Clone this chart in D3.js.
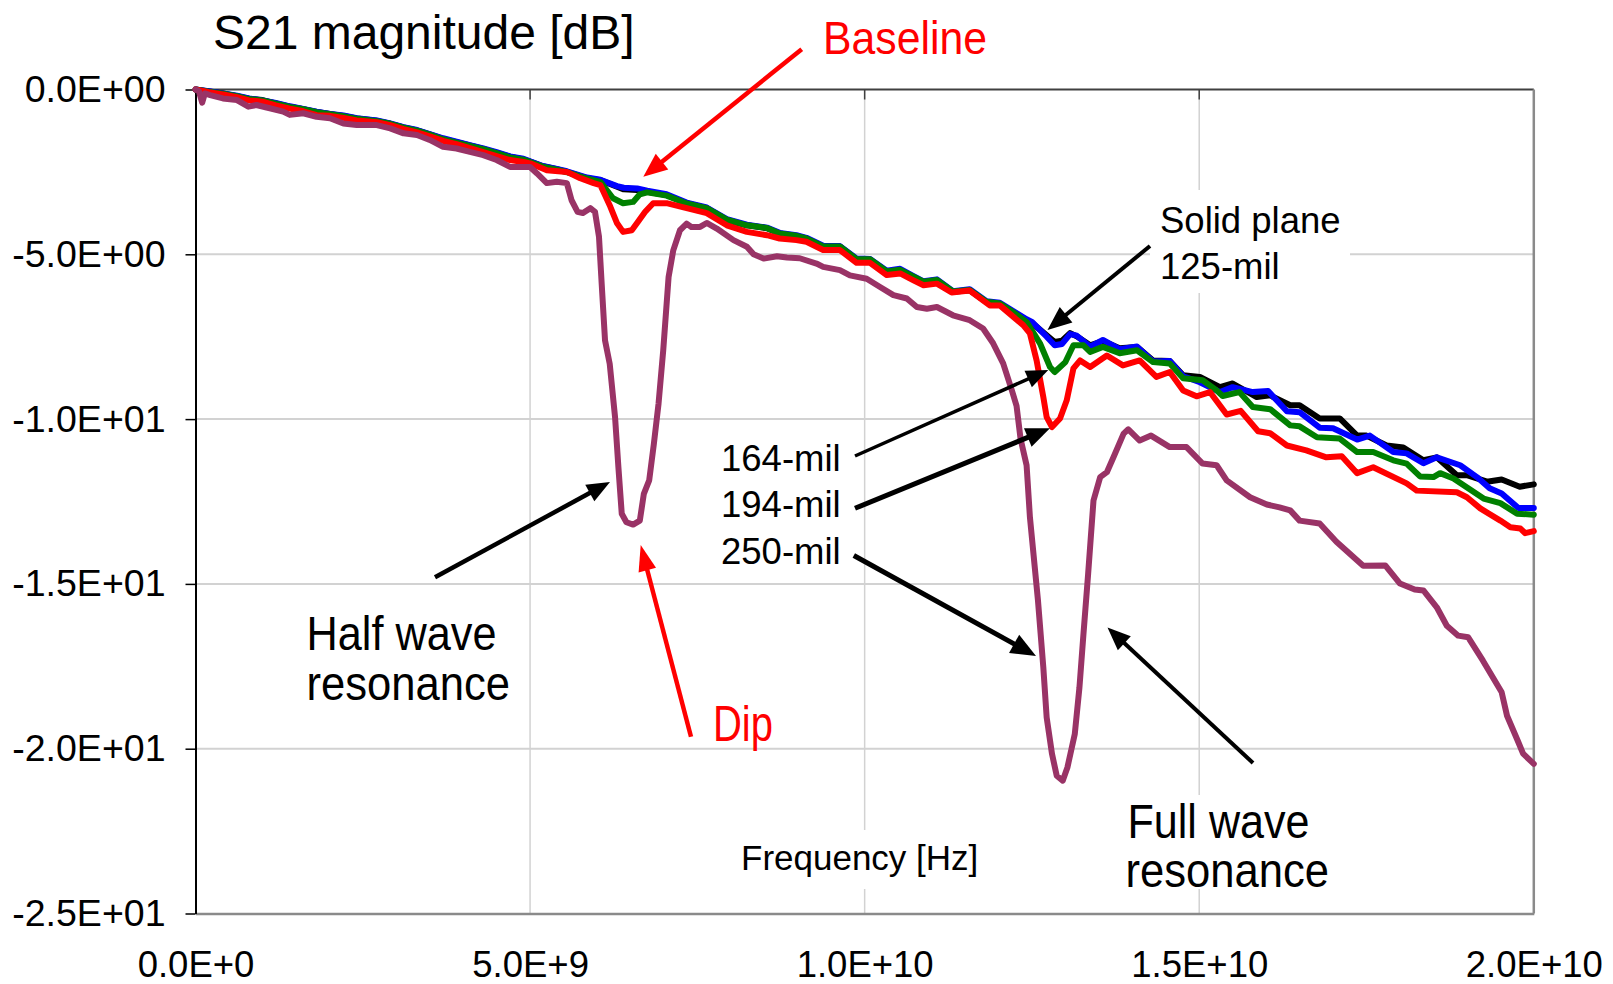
<!DOCTYPE html>
<html>
<head>
<meta charset="utf-8">
<script src="https://cdn.jsdelivr.net/npm/d3@7"></script>
<style>
  html, body { margin: 0; padding: 0; background: #fff; }
  svg { display: block; }
  text { font-family: "Liberation Sans", Arial, sans-serif; fill: #000; }
  .narrow { font-family: "Liberation Sans Narrow", "Arial Narrow", "Liberation Sans", Arial, sans-serif; }
</style>
</head>
<body>
<svg id="chart" width="1613" height="984"></svg>
<script>
// ---- S21 measurements: [frequency in GHz, magnitude in dB] ----
const solidPlane = [[0,0],[0.2,-0.06],[0.41,-0.12],[0.62,-0.2],[0.8,-0.28],[1.0,-0.32],[1.2,-0.42],[1.41,-0.52],[1.61,-0.6],[1.81,-0.68],[2.01,-0.74],[2.21,-0.8],[2.41,-0.88],[2.71,-0.95],[2.91,-1.04],[3.11,-1.15],[3.31,-1.24],[3.5,-1.36],[3.7,-1.5],[3.9,-1.6],[4.1,-1.7],[4.3,-1.8],[4.5,-1.92],[4.7,-2.04],[4.9,-2.12],[5.0,-2.19],[5.19,-2.33],[5.4,-2.42],[5.55,-2.5],[5.85,-2.69],[6.05,-2.75],[6.3,-2.95],[6.4,-3.03],[6.6,-3.05],[6.75,-3.1],[7.04,-3.2],[7.34,-3.45],[7.64,-3.6],[7.94,-3.96],[8.24,-4.12],[8.54,-4.21],[8.73,-4.37],[8.98,-4.45],[9.13,-4.52],[9.38,-4.77],[9.63,-4.77],[9.88,-5.16],[10.08,-5.16],[10.33,-5.53],[10.53,-5.48],[10.73,-5.69],[10.88,-5.84],[11.08,-5.79],[11.32,-6.14],[11.57,-6.09],[11.82,-6.45],[12.02,-6.5],[12.22,-6.75],[12.42,-7.0],[12.5,-7.08],[12.72,-7.46],[12.84,-7.66],[12.95,-7.62],[13.07,-7.39],[13.17,-7.49],[13.37,-7.76],[13.56,-7.63],[13.81,-7.85],[14.07,-7.81],[14.31,-8.22],[14.56,-8.24],[14.76,-8.67],[15.01,-8.72],[15.31,-9.03],[15.5,-8.92],[15.86,-9.33],[16.06,-9.28],[16.36,-9.58],[16.5,-9.58],[16.8,-9.98],[17.1,-9.98],[17.36,-10.5],[17.5,-10.5],[17.8,-10.8],[18.05,-10.86],[18.35,-11.25],[18.55,-11.16],[18.85,-11.7],[19.0,-11.7],[19.3,-11.9],[19.52,-11.83],[19.79,-12.05],[20.0,-11.98]];

const mil125 = [[0,0],[0.2,-0.05],[0.41,-0.12],[0.62,-0.19],[0.8,-0.27],[1.0,-0.33],[1.2,-0.41],[1.41,-0.51],[1.61,-0.59],[1.81,-0.67],[2.01,-0.74],[2.21,-0.79],[2.41,-0.87],[2.71,-0.94],[2.91,-1.03],[3.11,-1.14],[3.31,-1.23],[3.5,-1.35],[3.7,-1.48],[3.9,-1.58],[4.1,-1.69],[4.3,-1.79],[4.5,-1.9],[4.7,-2.03],[4.9,-2.1],[5.0,-2.18],[5.19,-2.32],[5.4,-2.41],[5.55,-2.48],[5.85,-2.67],[6.05,-2.74],[6.3,-2.93],[6.4,-2.98],[6.6,-3.0],[6.75,-3.07],[7.04,-3.18],[7.34,-3.43],[7.64,-3.58],[7.94,-3.93],[8.24,-4.1],[8.54,-4.19],[8.73,-4.35],[8.98,-4.42],[9.13,-4.5],[9.38,-4.74],[9.63,-4.75],[9.88,-5.13],[10.08,-5.14],[10.33,-5.5],[10.53,-5.44],[10.73,-5.66],[10.88,-5.82],[11.08,-5.76],[11.32,-6.12],[11.57,-6.06],[11.82,-6.42],[12.02,-6.47],[12.22,-6.72],[12.42,-6.97],[12.5,-7.05],[12.72,-7.5],[12.84,-7.76],[12.95,-7.72],[13.07,-7.42],[13.17,-7.47],[13.37,-7.8],[13.56,-7.6],[13.81,-7.88],[14.07,-7.8],[14.31,-8.25],[14.56,-8.24],[14.76,-8.7],[15.01,-8.88],[15.31,-9.18],[15.5,-9.03],[15.8,-9.18],[16.03,-9.15],[16.31,-9.76],[16.5,-9.79],[16.8,-10.26],[17.0,-10.28],[17.36,-10.62],[17.55,-10.5],[17.9,-11.0],[18.1,-11.04],[18.35,-11.34],[18.55,-11.16],[18.9,-11.4],[19.15,-11.76],[19.34,-12.1],[19.52,-12.26],[19.77,-12.7],[20.0,-12.7]];

const mil164 = [[0,0],[0.2,-0.07],[0.41,-0.13],[0.62,-0.2],[0.8,-0.29],[1.0,-0.33],[1.2,-0.43],[1.41,-0.53],[1.61,-0.6],[1.81,-0.69],[2.01,-0.75],[2.21,-0.81],[2.41,-0.89],[2.71,-0.96],[2.91,-1.04],[3.11,-1.16],[3.31,-1.25],[3.5,-1.37],[3.7,-1.51],[3.9,-1.61],[4.1,-1.71],[4.3,-1.81],[4.5,-1.93],[4.7,-2.06],[4.9,-2.13],[5.0,-2.2],[5.19,-2.34],[5.4,-2.43],[5.55,-2.51],[5.85,-2.7],[6.05,-2.8],[6.24,-3.3],[6.39,-3.45],[6.54,-3.41],[6.64,-3.18],[6.75,-3.12],[7.04,-3.22],[7.34,-3.46],[7.64,-3.6],[7.94,-3.95],[8.24,-4.12],[8.54,-4.2],[8.73,-4.37],[8.98,-4.44],[9.13,-4.52],[9.38,-4.76],[9.63,-4.76],[9.88,-5.15],[10.08,-5.15],[10.33,-5.52],[10.53,-5.47],[10.73,-5.68],[10.88,-5.83],[11.08,-5.78],[11.32,-6.13],[11.57,-6.08],[11.82,-6.44],[12.02,-6.49],[12.22,-6.76],[12.42,-7.05],[12.62,-7.7],[12.77,-8.42],[12.84,-8.57],[13.0,-8.27],[13.12,-7.76],[13.27,-7.76],[13.37,-7.96],[13.56,-7.81],[13.81,-8.0],[14.07,-7.91],[14.31,-8.27],[14.56,-8.31],[14.76,-8.76],[15.05,-8.82],[15.26,-9.13],[15.35,-9.3],[15.6,-9.18],[15.8,-9.63],[16.06,-9.7],[16.36,-10.19],[16.5,-10.22],[16.76,-10.55],[17.1,-10.59],[17.36,-11.0],[17.6,-11.0],[17.9,-11.25],[18.1,-11.35],[18.3,-11.74],[18.5,-11.76],[18.6,-11.64],[18.8,-11.8],[19.25,-12.41],[19.5,-12.55],[19.75,-12.87],[20.0,-12.9]];

const mil194 = [[0,0],[0.2,-0.08],[0.41,-0.15],[0.62,-0.23],[0.8,-0.33],[1.0,-0.37],[1.2,-0.48],[1.41,-0.58],[1.61,-0.66],[1.81,-0.78],[2.01,-0.8],[2.21,-0.86],[2.41,-0.94],[2.71,-0.99],[2.91,-1.08],[3.11,-1.2],[3.31,-1.3],[3.5,-1.42],[3.7,-1.56],[3.9,-1.66],[4.1,-1.78],[4.3,-1.9],[4.5,-2.02],[4.7,-2.14],[4.9,-2.2],[5.0,-2.24],[5.25,-2.45],[5.55,-2.5],[5.75,-2.69],[5.95,-2.84],[6.05,-2.9],[6.2,-3.56],[6.3,-4.06],[6.39,-4.32],[6.52,-4.27],[6.61,-4.02],[6.72,-3.71],[6.84,-3.45],[7.04,-3.45],[7.34,-3.6],[7.64,-3.75],[7.94,-4.12],[8.24,-4.32],[8.54,-4.42],[8.73,-4.52],[8.98,-4.57],[9.13,-4.62],[9.38,-4.87],[9.63,-4.87],[9.88,-5.26],[10.08,-5.26],[10.33,-5.63],[10.53,-5.58],[10.73,-5.79],[10.88,-5.94],[11.08,-5.89],[11.3,-6.16],[11.57,-6.1],[11.87,-6.55],[12.02,-6.55],[12.37,-7.15],[12.47,-7.4],[12.57,-8.22],[12.67,-9.33],[12.72,-9.94],[12.8,-10.24],[12.92,-9.98],[13.02,-9.43],[13.12,-8.46],[13.22,-8.22],[13.37,-8.42],[13.62,-8.07],[13.86,-8.37],[14.11,-8.22],[14.36,-8.72],[14.56,-8.57],[14.76,-9.13],[14.96,-9.31],[15.16,-9.18],[15.41,-9.86],[15.62,-9.75],[15.88,-10.37],[16.06,-10.43],[16.31,-10.8],[16.6,-10.95],[16.9,-11.16],[17.13,-11.13],[17.36,-11.64],[17.6,-11.46],[18.1,-11.95],[18.25,-12.17],[18.85,-12.22],[19.0,-12.37],[19.2,-12.71],[19.5,-13.08],[19.65,-13.28],[19.8,-13.32],[19.87,-13.46],[20.0,-13.4]];

const mil250 = [[0,0],[0.05,-0.05],[0.1,-0.4],[0.14,-0.12],[0.22,-0.17],[0.41,-0.27],[0.62,-0.32],[0.79,-0.52],[0.91,-0.47],[1.11,-0.57],[1.31,-0.67],[1.41,-0.77],[1.61,-0.72],[1.81,-0.83],[2.01,-0.87],[2.21,-1.03],[2.41,-1.08],[2.71,-1.08],[2.91,-1.18],[3.11,-1.33],[3.31,-1.38],[3.5,-1.53],[3.7,-1.74],[3.9,-1.79],[4.1,-1.89],[4.3,-1.99],[4.5,-2.14],[4.7,-2.35],[4.9,-2.35],[5.0,-2.35],[5.1,-2.54],[5.25,-2.84],[5.4,-2.8],[5.55,-2.84],[5.62,-3.36],[5.71,-3.71],[5.79,-3.75],[5.9,-3.6],[5.97,-3.71],[6.03,-4.47],[6.07,-5.89],[6.12,-7.61],[6.19,-8.32],[6.27,-9.94],[6.32,-11.46],[6.37,-12.87],[6.44,-13.13],[6.54,-13.2],[6.64,-13.08],[6.7,-12.27],[6.78,-11.86],[6.85,-10.75],[6.92,-9.53],[6.99,-7.91],[7.07,-5.69],[7.14,-4.88],[7.24,-4.27],[7.34,-4.07],[7.41,-4.17],[7.54,-4.17],[7.64,-4.05],[7.79,-4.22],[8.04,-4.57],[8.24,-4.77],[8.34,-5.0],[8.49,-5.13],[8.69,-5.06],[8.84,-5.1],[9.03,-5.12],[9.28,-5.28],[9.38,-5.38],[9.63,-5.48],[9.78,-5.64],[10.03,-5.74],[10.23,-5.99],[10.43,-6.24],[10.63,-6.34],[10.78,-6.6],[10.93,-6.65],[11.08,-6.6],[11.32,-6.85],[11.57,-7.0],[11.77,-7.25],[11.92,-7.7],[12.07,-8.31],[12.2,-9.13],[12.27,-9.6],[12.33,-10.6],[12.42,-11.4],[12.47,-12.98],[12.59,-15.5],[12.67,-17.53],[12.72,-19.05],[12.8,-20.16],[12.87,-20.82],[12.96,-20.97],[13.03,-20.57],[13.14,-19.56],[13.21,-18.14],[13.27,-16.52],[13.34,-14.69],[13.42,-12.47],[13.52,-11.76],[13.62,-11.61],[13.72,-11.15],[13.87,-10.44],[13.94,-10.31],[14.11,-10.65],[14.28,-10.5],[14.56,-10.85],[14.81,-10.85],[15.05,-11.35],[15.26,-11.4],[15.41,-11.86],[15.76,-12.37],[16.01,-12.59],[16.2,-12.68],[16.36,-12.77],[16.5,-13.08],[16.8,-13.17],[17.05,-13.72],[17.45,-14.45],[17.78,-14.44],[18.0,-14.99],[18.22,-15.17],[18.35,-15.2],[18.55,-15.71],[18.7,-16.27],[18.87,-16.57],[19.02,-16.62],[19.24,-17.33],[19.52,-18.29],[19.6,-19.0],[19.76,-19.76],[19.84,-20.15],[20.0,-20.46]];

// ---- axis ticks ----
const xTickValues = [0, 5, 10, 15, 20];           // GHz
const xTickLabels = ["0.0E+0", "5.0E+9", "1.0E+10", "1.5E+10", "2.0E+10"];
const yTickValues = [0, -5, -10, -15, -20, -25];  // dB
const yTickLabels = ["0.0E+00", "-5.0E+00", "-1.0E+01", "-1.5E+01", "-2.0E+01", "-2.5E+01"];

// ---- series drawing order (last on top) ----
const seriesList = [
  { name: "Solid plane", values: solidPlane, color: "#000000" },
  { name: "125-mil",     values: mil125,     color: "#0000ff" },
  { name: "164-mil",     values: mil164,     color: "#008000" },
  { name: "194-mil",     values: mil194,     color: "#ff0000" },
  { name: "250-mil",     values: mil250,     color: "#993366" }
];

// ---- layout ----
const plot = { left: 195.5, right: 1533.8, top: 89.5, bottom: 913.5 };
const svg = d3.select("#chart");

const x = d3.scaleLinear().domain([0, 20]).range([plot.left, plot.right]);
const y = d3.scaleLinear().domain([-25, 0]).range([plot.bottom, plot.top]);

// gridlines
const grid = svg.append("g");
grid.selectAll("line.h").data(yTickValues.filter(v => v !== 0 && v !== -25)).join("line")
  .attr("x1", plot.left).attr("x2", plot.right)
  .attr("y1", d => y(d)).attr("y2", d => y(d))
  .attr("stroke", "#d2d2d2").attr("stroke-width", 2);
grid.selectAll("line.v").data(xTickValues.filter(v => v !== 0 && v !== 20)).join("line")
  .attr("x1", d => x(d)).attr("x2", d => x(d))
  .attr("y1", plot.top).attr("y2", plot.bottom)
  .attr("stroke", "#d2d2d2").attr("stroke-width", 1.5);

// frame: top and right borders
svg.append("line").attr("x1", plot.left).attr("x2", plot.right)
  .attr("y1", plot.top).attr("y2", plot.top).attr("stroke", "#404040").attr("stroke-width", 2);
svg.append("line").attr("x1", plot.right).attr("x2", plot.right)
  .attr("y1", plot.top).attr("y2", plot.bottom).attr("stroke", "#8a8a8a").attr("stroke-width", 2.5);
// short marks hanging from the top border
svg.append("g").selectAll("line").data(xTickValues.filter(v => v !== 0 && v !== 20)).join("line")
  .attr("x1", d => x(d)).attr("x2", d => x(d))
  .attr("y1", plot.top).attr("y2", plot.top + 10)
  .attr("stroke", "#404040").attr("stroke-width", 1.5);

// x axis
const xAxis = d3.axisBottom(x)
  .tickValues(xTickValues)
  .tickFormat((d, i) => xTickLabels[i])
  .tickSizeInner(0).tickSizeOuter(0).tickPadding(38);
const gx = svg.append("g").attr("transform", `translate(0,${plot.bottom})`).call(xAxis);
gx.select(".domain").attr("stroke", "#8a8a8a").attr("stroke-width", 2.5);
gx.selectAll("text").attr("font-size", 36.5).attr("font-family", "Liberation Sans, Arial, sans-serif").attr("fill", "#000");

// y axis
const yAxis = d3.axisLeft(y)
  .tickValues(yTickValues)
  .tickFormat((d, i) => yTickLabels[i])
  .tickSizeInner(10).tickSizeOuter(0).tickPadding(20);
const gy = svg.append("g").attr("transform", `translate(${plot.left},0)`).call(yAxis);
gy.select(".domain").attr("stroke", "#000").attr("stroke-width", 2);
gy.selectAll(".tick line").attr("stroke", "#000").attr("stroke-width", 1.5);
gy.selectAll("text").attr("font-size", 37.5).attr("font-family", "Liberation Sans, Arial, sans-serif").attr("fill", "#000");

// curves
const line = d3.line().x(d => x(d[0])).y(d => y(d[1]));
svg.append("g").selectAll("path").data(seriesList).join("path")
  .attr("d", d => line(d.values))
  .attr("fill", "none")
  .attr("stroke", d => d.color)
  .attr("stroke-width", 6)
  .attr("stroke-linejoin", "round")
  .attr("stroke-linecap", "round");

// white label boxes
const boxes = [
  { x: 1150, y: 190, w: 200, h: 103 },
  { x: 735,  y: 830, w: 252, h: 59 },
  { x: 1118, y: 795, w: 220, h: 94 }
];
svg.append("g").selectAll("rect").data(boxes).join("rect")
  .attr("x", d => d.x).attr("y", d => d.y).attr("width", d => d.w).attr("height", d => d.h)
  .attr("fill", "#fff");

// arrows
function arrow(g, x1, y1, x2, y2, color, width, headLen, headW) {
  const dx = x2 - x1, dy = y2 - y1, L = Math.hypot(dx, dy);
  const ux = dx / L, uy = dy / L;
  const bx = x2 - ux * headLen, by = y2 - uy * headLen;
  g.append("line").attr("x1", x1).attr("y1", y1)
    .attr("x2", bx + ux * 2).attr("y2", by + uy * 2)
    .attr("stroke", color).attr("stroke-width", width);
  g.append("polygon")
    .attr("points", [[x2, y2], [bx - uy * headW / 2, by + ux * headW / 2], [bx + uy * headW / 2, by - ux * headW / 2]]
      .map(p => p.join(",")).join(" "))
    .attr("fill", color);
}
const arrows = [
  { from: [801.7, 49.3],  to: [643.3, 176.7], color: "#ff0000", w: 4.5, hl: 24, hw: 20 },
  { from: [1150, 246],    to: [1047.5, 330],  color: "#000",    w: 4,   hl: 24, hw: 20 },
  { from: [855, 456],     to: [1048.3, 370],  color: "#000",    w: 3.5, hl: 22, hw: 18 },
  { from: [855, 508.3],   to: [1050, 428.3],  color: "#000",    w: 5,   hl: 24, hw: 20 },
  { from: [853.8, 555.5], to: [1036, 656],    color: "#000",    w: 5,   hl: 25, hw: 21 },
  { from: [1253, 763],    to: [1107.5, 627.5],color: "#000",    w: 4,   hl: 23, hw: 19 },
  { from: [435, 577.3],   to: [610, 482],     color: "#000",    w: 4.5, hl: 23, hw: 19 },
  { from: [691, 736.7],   to: [640.7, 545],   color: "#ff0000", w: 4.5, hl: 26, hw: 18 }
];
const ga = svg.append("g");
arrows.forEach(a => arrow(ga, a.from[0], a.from[1], a.to[0], a.to[1], a.color, a.w, a.hl, a.hw));

// texts
const texts = [
  { t: "S21 magnitude [dB]", x: 213, y: 48.5, size: 48 },
  { t: "Frequency [Hz]", x: 741, y: 870, size: 35 },
  { t: "Solid plane", x: 1160, y: 232.5, size: 36.5 },
  { t: "125-mil", x: 1160, y: 279, size: 36.5 },
  { t: "164-mil", x: 721, y: 470.7, size: 36.5 },
  { t: "194-mil", x: 721, y: 517.3, size: 36.5 },
  { t: "250-mil", x: 721, y: 564, size: 36.5 },
  { t: "Baseline", x: 823, y: 53.5, size: 47, narrow: 164, color: "#ff0000" },
  { t: "Dip", x: 713, y: 741, size: 50, narrow: 60, color: "#ff0000" },
  { t: "Half wave", x: 306.5, y: 650, size: 48, narrow: 190 },
  { t: "resonance", x: 306.5, y: 699.5, size: 48, narrow: 203.5 },
  { t: "Full wave", x: 1127.5, y: 838.4, size: 48, narrow: 182 },
  { t: "resonance", x: 1125.4, y: 886.7, size: 48, narrow: 203.6 }
];
const gt = svg.append("g");
texts.forEach(d => {
  const el = gt.append("text").attr("x", d.x).attr("y", d.y)
    .attr("font-size", d.size).text(d.t)
    .style("fill", d.color || "#000");
  if (d.narrow) {
    el.attr("class", "narrow").attr("textLength", d.narrow).attr("lengthAdjust", "spacingAndGlyphs");
  }
});
</script>
</body>
</html>
